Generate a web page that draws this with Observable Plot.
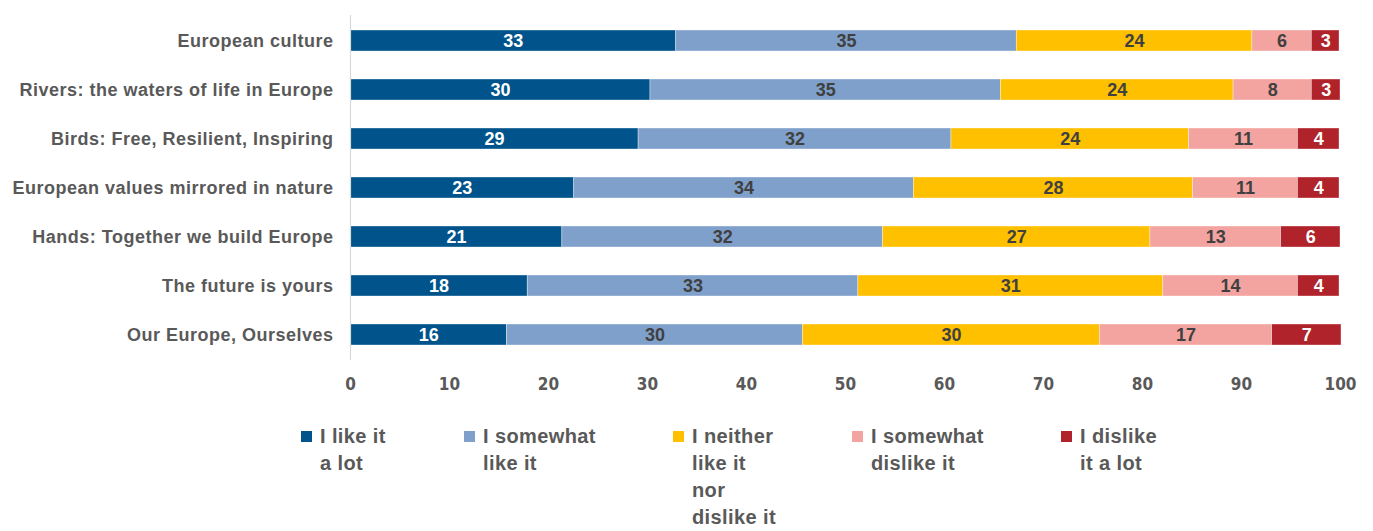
<!DOCTYPE html>
<html>
<head>
<meta charset="utf-8">
<script src="https://cdn.jsdelivr.net/npm/d3@7"></script>
<script src="https://cdn.jsdelivr.net/npm/@observablehq/plot@0.6"></script>
<style>
  body { margin: 0; background: #fff; font-family: "Liberation Sans", Arial, sans-serif; }
  #wrap { position: relative; width: 1373px; height: 531px; }
  .leg { position: absolute; top: 423px; font-size: 20px; letter-spacing: 0.4px; font-weight: bold; color: #595959; line-height: 27px; }
  .sw { position: absolute; left: 0; top: 8px; width: 11px; height: 11px; }
  .lt { margin-left: 19px; white-space: nowrap; }
  .ytk text { letter-spacing: 0.5px; }
</style>
</head>
<body>
<div id="wrap"></div>
<script>
const categories = [
  "European culture",
  "Rivers: the waters of life in Europe",
  "Birds: Free, Resilient, Inspiring",
  "European values mirrored in nature",
  "Hands: Together we build Europe",
  "The future is yours",
  "Our Europe, Ourselves"
];
const series = [
  "I like it a lot",
  "I somewhat like it",
  "I neither like it nor dislike it",
  "I somewhat dislike it",
  "I dislike it a lot"
];
const legendLines = [
  ["I like it", "a lot"],
  ["I somewhat", "like it"],
  ["I neither", "like it", "nor", "dislike it"],
  ["I somewhat", "dislike it"],
  ["I dislike", "it a lot"]
];
const colors = ["#00548B", "#7FA0CB", "#FFC000", "#F4A4A0", "#B0232A"];
const labelColors = ["#ffffff", "#404040", "#404040", "#404040", "#ffffff"];

// segment widths and printed labels
const likeALot        = [32.9, 30.3, 29.1, 22.6, 21.4, 17.9, 15.8];
const somewhatLike    = [34.4, 35.4, 31.6, 34.3, 32.4, 33.4, 29.9];
const neither         = [23.8, 23.5, 24.0, 28.2, 27.0, 30.8, 30.0];
const somewhatDislike = [ 6.0,  7.9, 11.0, 10.6, 13.2, 13.6, 17.4];
const dislikeALot     = [ 2.8,  2.9,  4.2,  4.2,  6.0,  4.2,  7.0];

const likeALotLbl        = [33, 30, 29, 23, 21, 18, 16];
const somewhatLikeLbl    = [35, 35, 32, 34, 32, 33, 30];
const neitherLbl         = [24, 24, 24, 28, 27, 31, 30];
const somewhatDislikeLbl = [ 6,  8, 11, 11, 13, 14, 17];
const dislikeALotLbl     = [ 3,  3,  4,  4,  6,  4,  7];

const xTicks = [0, 10, 20, 30, 40, 50, 60, 70, 80, 90, 100];

const valueSets = [likeALot, somewhatLike, neither, somewhatDislike, dislikeALot];
const labelSets = [likeALotLbl, somewhatLikeLbl, neitherLbl, somewhatDislikeLbl, dislikeALotLbl];

const data = [];
categories.forEach((c, ci) => {
  series.forEach((s, si) => {
    data.push({cat: c, series: s, si, value: valueSets[si][ci], label: labelSets[si][ci]});
  });
});

const chart = Plot.plot({
  width: 1373,
  height: 400,
  marginLeft: 350,
  marginRight: 33,
  marginTop: 15,
  marginBottom: 40,
  style: {fontFamily: "'Liberation Sans', Arial, sans-serif", color: "#595959", background: "#fff"},
  x: {domain: [0, 100]},
  y: {domain: categories, paddingInner: 0.58, paddingOuter: 0.29},
  color: {domain: series, range: colors},
  marks: [
    Plot.barX(data, Plot.stackX({x: "value", y: "cat", z: "series", order: null, fill: "series", stroke: "#ffffff", strokeWidth: 0.6, strokeOpacity: 0.6})),
    Plot.textX(data, Plot.stackX({x: "value", y: "cat", z: "series", order: null, text: "label",
      fill: d => labelColors[d.si], fontSize: 18, fontWeight: "bold"})),
    Plot.ruleX([0], {stroke: "#D9D9D9", strokeWidth: 1.2}),
    Plot.axisY({tickSize: 0, tickPadding: 17, fontSize: 18, fontWeight: "bold", fill: "#595959", label: null, className: "ytk"}),
    Plot.axisX({ticks: xTicks, tickSize: 0, tickPadding: 17, fontSize: 17, fontWeight: "bold",
      fontFamily: "'Liberation Sans Narrow', 'DejaVu Sans Condensed', 'Liberation Sans', Arial, sans-serif", fill: "#595959", label: null})
  ]
});

const wrap = document.getElementById("wrap");
wrap.appendChild(chart);

const legendLeft = [301, 464, 673, 852, 1061];
series.forEach((s, i) => {
  const item = document.createElement("div");
  item.className = "leg";
  item.style.left = legendLeft[i] + "px";
  const sw = document.createElement("div");
  sw.className = "sw";
  sw.style.background = colors[i];
  item.appendChild(sw);
  const t = document.createElement("div");
  t.className = "lt";
  t.innerHTML = legendLines[i].join("<br>");
  item.appendChild(t);
  wrap.appendChild(item);
});
</script>
</body>
</html>
